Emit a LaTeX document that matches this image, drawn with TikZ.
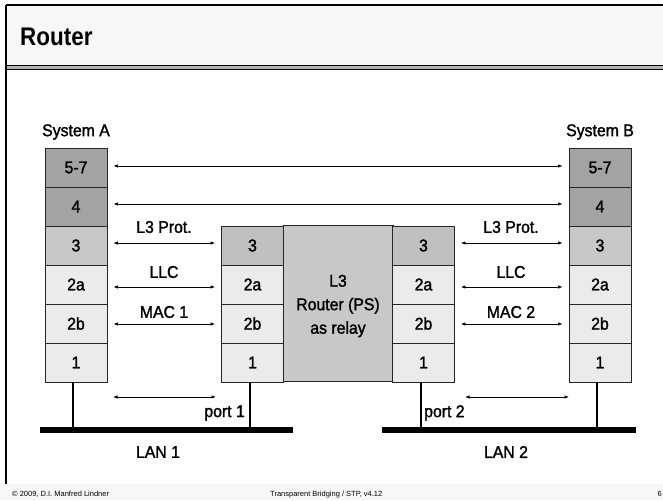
\documentclass[tikz,border=0pt]{standalone}
\usepackage{fontspec}
\setmainfont{Liberation Sans}
\newfontfamily\lblfont[FakeStretch=0.93,FakeBold=1.6]{Liberation Sans}
\newfontfamily\ttlfont[FakeStretch=0.88]{Liberation Sans}
\usetikzlibrary{arrows.meta}
\definecolor{hdr}{HTML}{F7F7F7}
\definecolor{dk}{HTML}{A3A3A3}
\definecolor{md}{HTML}{C8C8C8}
\definecolor{rmd}{HTML}{C0C0C0}
\definecolor{lt}{HTML}{EBEBEB}
\begin{document}
\begin{tikzpicture}[x=1pt,y=-1pt,
  cell/.style={draw=black!85, line width=0.9pt, minimum width=62pt, minimum height=39pt, inner sep=0pt, font=\lblfont\fontsize{17}{19}\selectfont},
  lbl/.style={font=\lblfont\fontsize{17}{19}\selectfont, inner sep=0pt},
  foot/.style={font=\fontsize{7.5}{9}\selectfont, inner sep=0pt},
  arr/.style={line width=0.7pt, {Latex[length=4.5pt,width=3.5pt]}-{Latex[length=4.5pt,width=3.5pt]}},
  lan/.style={line width=6pt},
  drop/.style={line width=2.5pt}]
\useasboundingbox (0,0) rectangle (663,500);
% header
\fill[hdr] (6,5) rectangle (663,65);
\draw[line width=1.5pt] (6,5) -- (663,5);
\fill[gray!60] (5,65) rectangle (663,70);
\draw[line width=1pt] (5,65.5) -- (663,65.5);
\draw[line width=1pt] (5,69.5) -- (663,69.5);
\draw[line width=2pt] (6,5) -- (6,484);
\node[anchor=west, inner sep=0pt, font=\ttlfont\fontsize{25.5}{28}\selectfont\bfseries] (title) at (20,36.5) {Router};
% footer
\fill[hdr] (0,484) rectangle (663,500);
\node[foot, anchor=base west] (f1) at (12,496) {© 2009, D.I. Manfred Lindner};
\node[foot, anchor=base west] (f2) at (270,496) {Transparent Bridging / STP, v4.12};
\node[foot, anchor=base east] (f3) at (662,496) {6};
% System A
\node[lbl] (sa) at (76,132) {System A};
\node[cell, fill=dk] (a57) at (76,167.5) {5-7};
\node[cell, fill=dk] (a4) at (76,206.5) {4};
\node[cell, fill=md] (a3) at (76,245.5) {3};
\node[cell, fill=lt] (a2a) at (76,284.5) {2a};
\node[cell, fill=lt] (a2b) at (76,323.5) {2b};
\node[cell, fill=lt] (a1) at (76,362.5) {1};
% System B
\node[lbl] (sb) at (600,132) {System B};
\node[cell, fill=dk] (b57) at (600,167.5) {5-7};
\node[cell, fill=dk] (b4) at (600,206.5) {4};
\node[cell, fill=md] (b3) at (600,245.5) {3};
\node[cell, fill=lt] (b2a) at (600,284.5) {2a};
\node[cell, fill=lt] (b2b) at (600,323.5) {2b};
\node[cell, fill=lt] (b1) at (600,362.5) {1};
% Router
\node[cell, fill=md, minimum width=110pt, minimum height=156pt] (relay) at (338,303.5) {};
\node[lbl, align=center, font=\lblfont\fontsize{17}{23.5}\selectfont] (relayt) at (338,306) {L3\\Router (PS)\\as relay};
\node[cell, fill=rmd] (l3) at (252.5,245.5) {3};
\node[cell, fill=lt] (l2a) at (252.5,284.5) {2a};
\node[cell, fill=lt] (l2b) at (252.5,323.5) {2b};
\node[cell, fill=lt] (l1) at (252.5,362.5) {1};
\node[cell, fill=rmd] (r3) at (423.5,245.5) {3};
\node[cell, fill=lt] (r2a) at (423.5,284.5) {2a};
\node[cell, fill=lt] (r2b) at (423.5,323.5) {2b};
\node[cell, fill=lt] (r1) at (423.5,362.5) {1};
% peer arrows
\draw[arr] ([xshift=6pt,yshift=1.5pt]a57.east) -- ([xshift=-6pt,yshift=1.5pt]b57.west);
\draw[arr] ([xshift=6pt,yshift=2.5pt]a4.east) -- ([xshift=-6pt,yshift=2.5pt]b4.west);
\draw[arr] ([xshift=6pt,yshift=2.5pt]a3.east) -- ([xshift=-6pt,yshift=2.5pt]l3.west);
\draw[arr] ([xshift=6pt,yshift=-2.5pt]a2a.east) -- ([xshift=-6pt,yshift=-2.5pt]l2a.west);
\draw[arr] ([xshift=6pt,yshift=-0.5pt]a2b.east) -- ([xshift=-6pt,yshift=-0.5pt]l2b.west);
\draw[arr] ([xshift=6pt,yshift=2.5pt]r3.east) -- ([xshift=-6pt,yshift=2.5pt]b3.west);
\draw[arr] ([xshift=6pt,yshift=-2.5pt]r2a.east) -- ([xshift=-6pt,yshift=-2.5pt]b2a.west);
\draw[arr] ([xshift=6pt,yshift=-0.5pt]r2b.east) -- ([xshift=-6pt,yshift=-0.5pt]b2b.west);
\node[lbl] (t1) at (164,227) {L3 Prot.};
\node[lbl] (t2) at (164,272) {LLC};
\node[lbl] (t3) at (164,312) {MAC 1};
\node[lbl] (t4) at (511,227) {L3 Prot.};
\node[lbl] (t5) at (511,272) {LLC};
\node[lbl] (t6) at (511,312) {MAC 2};
% LANs
\coordinate (lan1l) at (40,430);
\coordinate (lan1r) at (293,430);
\coordinate (lan2l) at (382,430);
\coordinate (lan2r) at (636,430);
\draw[lan] (lan1l) -- (lan1r);
\draw[lan] (lan2l) -- (lan2r);
\draw[drop] (a1.south -| 73,0) -- (73,430);
\draw[drop] (l1.south -| 250,0) -- (250,430);
\draw[drop] (r1.south -| 421,0) -- (421,430);
\draw[drop] (b1.south -| 597,0) -- (597,430);
\node[lbl] (lan1t) at (158,452) {LAN 1};
\node[lbl] (lan2t) at (506,452) {LAN 2};
% port arrows
\coordinate (p1a) at (113,397);
\coordinate (p1b) at (216,397);
\coordinate (p2a) at (465,397);
\coordinate (p2b) at (569,397);
\draw[arr] (p1a) -- (p1b);
\draw[arr] (p2a) -- (p2b);
\node[lbl, anchor=east] (port1) at (245,413) {port 1};
\node[lbl, anchor=west] (port2) at (424,413) {port 2};
\end{tikzpicture}
\end{document}
